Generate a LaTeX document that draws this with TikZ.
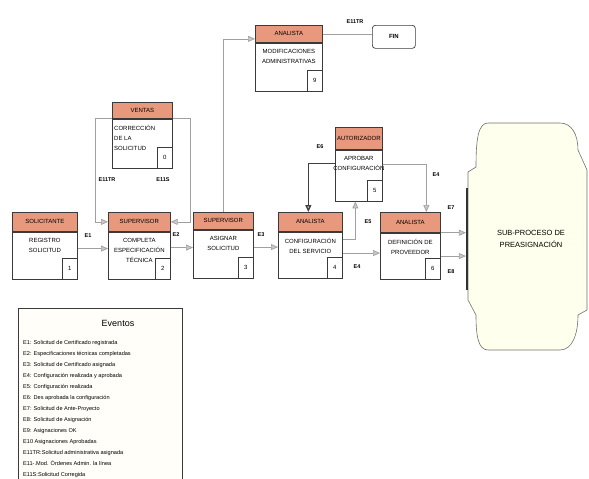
\documentclass[tikz,border=0pt]{standalone}
\usepackage{fontspec}
\setmainfont{Liberation Sans}
\usetikzlibrary{arrows.meta}
\definecolor{hdrc}{HTML}{E8987C}
\definecolor{boxc}{HTML}{3A3A3A}
\definecolor{lnc}{HTML}{A0A0A0}
\definecolor{tipc}{HTML}{C8C8C8}
\definecolor{cloudfill}{HTML}{FFFFEE}
\definecolor{cloudc}{HTML}{707070}
\definecolor{legfill}{HTML}{FFFEF8}
\newcommand\actbox[9]{%
  \node[hdr, minimum width=#4pt, minimum height=#5pt] (#1h) at (#2,#3) {#7};
  \node[bod, minimum width=#4pt, minimum height=#6pt] (#1b) at (#1h.south west) {};
  \node[txt] (#1t) at ([yshift=-6pt]#1b.north) {#8};
  \node[numb] (#1n) at (#1b.south east) {#9};
}
\begin{document}
\begin{tikzpicture}[x=1pt,y=-1pt,
  hdr/.style={draw=boxc, line width=0.7pt, fill=hdrc, inner sep=0, anchor=north west, font=\fontsize{6}{7}\selectfont},
  bod/.style={draw=boxc, line width=0.7pt, fill=white, inner sep=0, anchor=north west},
  numb/.style={draw=boxc, line width=0.6pt, fill=white, inner sep=0, anchor=south east, minimum width=15pt, minimum height=21pt, font=\fontsize{6}{7}\selectfont},
  txt/.style={anchor=north, align=center, inner sep=0, font=\fontsize{6}{10}\selectfont},
  ln/.style={draw=lnc, line width=0.7pt},
  arr/.style={ln, -{Triangle[length=7pt,width=6pt,fill=tipc]}},
  lab/.style={inner sep=0, font=\fontsize{5.5}{6}\selectfont\bfseries}]
\useasboundingbox (0,0) rectangle (589,479);

% cloud sub-process
\filldraw[draw=cloudc, fill=cloudfill, line width=0.6pt]
  (488,123) -- (560,123) .. controls (572,123) and (578,135) .. (578,150)
  -- (587,170) -- (587,310) -- (578,315)
  .. controls (578,335) and (572,350) .. (560,350) -- (488,350)
  .. controls (478,350) and (476,335) .. (476,315) -- (468,300) -- (468,172)
  -- (476,167) .. controls (476,140) and (478,123) .. (488,123) -- cycle;
\node[align=center, inner sep=0, font=\fontsize{7.5}{12}\selectfont] (sub) at (531,239) {SUB-PROCESO DE\\PREASIGNACIÓN};
\node[fill=black!80, minimum width=1.8pt, minimum height=102pt, inner sep=0] (bar) at (467,239) {};

% activity boxes
\actbox{bA}{12}{212}{65}{19}{47}{SOLICITANTE}{REGISTRO\\SOLICITUD}{1}
\actbox{bB}{108}{212}{62}{19}{47}{SUPERVISOR}{COMPLETA\\ESPECIFICACIÓN\\TÉCNICA}{2}
\actbox{bC}{193}{212}{60}{17}{48}{SUPERVISOR}{ASIGNAR\\SOLICITUD}{3}
\actbox{bD}{278}{212}{64}{19}{46}{ANALISTA}{CONFIGURACIÓN\\DEL SERVICIO}{4}
\actbox{bE}{335}{127}{47}{22}{51}{AUTORIZADOR}{APROBAR\\CONFIGURACIÓN}{5}
\actbox{bF}{380}{212}{60}{20}{46}{ANALISTA}{DEFINICIÓN DE\\PROVEEDOR}{6}
\actbox{bI}{255}{25}{67}{17}{48}{ANALISTA}{MODIFICACIONES\\ADMINISTRATIVAS}{9}
% ventas box (left aligned text)
\node[hdr, minimum width=60pt, minimum height=16pt] (bVh) at (112,102) {VENTAS};
\node[bod, minimum width=60pt, minimum height=49pt] (bVb) at (bVh.south west) {};
\node[anchor=north west, align=left, inner sep=0, font=\fontsize{6}{10}\selectfont] (bVt) at ([xshift=2pt,yshift=-6pt]bVb.north west) {CORRECCIÓN\\DE LA\\SOLICITUD};
\node[numb] (bVn) at (bVb.south east) {0};

% FIN
\node[draw=boxc, line width=0.7pt, fill=white, rounded corners=3pt, anchor=north west, minimum width=43pt, minimum height=23pt, inner sep=0, font=\fontsize{6}{7}\selectfont\bfseries] (fin) at (372,25) {FIN};

% connectors
\draw[arr] ([yshift=7pt]bAb.east) -- ([yshift=7pt]bAb.east -| bBb.west);
\draw[arr] ([yshift=8pt]bBb.east) -- ([yshift=8pt]bBb.east -| bCb.west);
\draw[arr] ([yshift=7pt]bCb.east) -- ([yshift=7pt]bCb.east -| bDb.west);
\draw[arr] ([yshift=2pt]bDb.east) -- ([yshift=2pt]bDb.east -| bFb.west);
\draw[arr] ([yshift=16pt]bDb.east) -| ([xshift=-3.5pt]bEb.south);
\draw[arr, draw=black!75, line width=1.3pt] ([yshift=12pt]bEb.west) -| ([xshift=-2pt]bDh.north);
\draw[arr] ([yshift=11pt]bEb.east) -| ([xshift=16pt]bFh.north);
\draw[arr] (bFb.north east) -- (bFb.north east -| bar.west);
\draw[arr] (bFb.east) -- (bFb.east -| bar.west);
\draw[arr] (bVh.south west) -- ++(-17,0) |- (bBh.west);
\draw[arr] (bVh.south east) -- ++(18,0) |- (bBh.east);
\draw[arr] (bCh.north) |- ([yshift=-5pt]bIh.west);
\draw[ln] (bIh.east) -- (bIh.east -| fin.west);

% event labels
\node[lab] (lE1) at (88,236) {E1};
\node[lab] (lE2) at (176,235) {E2};
\node[lab] (lE3) at (261,235) {E3};
\node[lab] (lE4a) at (357,267) {E4};
\node[lab] (lE5) at (368,222) {E5};
\node[lab] (lE6) at (320,147) {E6};
\node[lab] (lE4b) at (436,175) {E4};
\node[lab] (lE7) at (451,208) {E7};
\node[lab] (lE8) at (451,272) {E8};
\node[lab] (lE11a) at (107,180) {E11TR};
\node[lab] (lE11b) at (163,180) {E11S};
\node[lab] (lE11c) at (355,22) {E11TR};

% legend
\node[draw=boxc, line width=0.6pt, fill=legfill, anchor=north west, minimum width=164pt, minimum height=180pt, inner sep=0] (leg) at (18,308) {};
\node[inner sep=0, font=\fontsize{9}{10}\selectfont] (legt) at (118,323) {Eventos};
\node[anchor=north west, align=left, inner sep=0, font=\fontsize{5.6}{11}\selectfont] (legl) at (23,340) {%
E1: Solicitud de Certificado registrada\\
E2: Especificaciones técnicas completadas\\
E3: Solicitud de Certificado asignada\\
E4: Configuración realizada y aprobada\\
E5: Configuración realizada\\
E6: Des aprobada la configuración\\
E7: Solicitud de Ante-Proyecto\\
E8: Solicitud de Asignación\\
E9: Asignaciones OK\\
E10 Asignaciones Aprobadas\\
E11TR:Solicitud administrativa asignada\\
E11-.Mod. Órdenes Admin. la línea\\
E11S:Solicitud Corregida};
\end{tikzpicture}
\end{document}
